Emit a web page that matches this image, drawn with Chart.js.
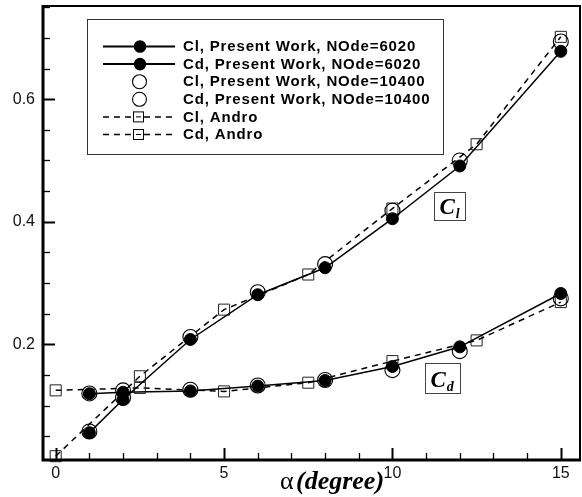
<!DOCTYPE html>
<html>
<head>
<meta charset="utf-8">
<script src="https://cdn.jsdelivr.net/npm/chart.js@4/dist/chart.umd.min.js"></script>
<style>
html,body{margin:0;padding:0;background:#fff;}
#wrap{width:582px;height:497px;position:relative;}
</style>
</head>
<body>
<div id="wrap"><canvas id="c" width="582" height="497"></canvas></div>
<script>
// ---- data ----
const alphaPresent = [1, 2, 4, 6, 8, 10, 12, 15];
const clPresent6020 = [0.056, 0.110, 0.208, 0.281, 0.325, 0.405, 0.491, 0.678];
const cdPresent6020 = [0.1195, 0.122, 0.124, 0.132, 0.141, 0.164, 0.196, 0.283];
const clPresent10400 = [0.058, 0.113, 0.212, 0.285, 0.331, 0.418, 0.500, 0.694];
const cdPresent10400 = [0.120, 0.125, 0.126, 0.133, 0.142, 0.158, 0.189, 0.275];
const alphaAndro = [0, 2.5, 5, 7.5, 10, 12.5, 15];
const clAndro = [0.0176, 0.148, 0.2567, 0.314, 0.4216, 0.5265, 0.7017];
const cdAndro = [0.125, 0.129, 0.1233, 0.1375, 0.1727, 0.2065, 0.269];
const xTicks = [0, 5, 10, 15];
const yTicks = [0.2, 0.4, 0.6];
const legendLabels = [
  'Cl, Present Work, NOde=6020',
  'Cd, Present Work, NOde=6020',
  'Cl, Present Work, NOde=10400',
  'Cd, Present Work, NOde=10400',
  'Cl, Andro',
  'Cd, Andro'
];
const xTitleSymbol = '\u03B1';
const xTitleText = '(degree)';

function pts(xs, ys){ return xs.map((x,i)=>({x:x, y:ys[i]})); }

const filledStyle = {
  showLine:true, borderColor:'#000', borderWidth:1.5,
  pointStyle:'circle', pointRadius:6, pointBorderWidth:1,
  pointBackgroundColor:'#000', pointBorderColor:'#000', tension:0, clip:false
};
const openStyle = {
  showLine:false, borderColor:'#000',
  pointStyle:'circle', pointRadius:7.5, pointBorderWidth:1.1,
  pointBackgroundColor:'rgba(0,0,0,0)', pointBorderColor:'#000', clip:false
};
const androStyle = {
  showLine:true, borderColor:'#000', borderWidth:1.5, borderDash:[6,5],
  pointStyle:'rect', pointRadius:7.8, pointBorderWidth:1,
  pointBackgroundColor:'rgba(0,0,0,0)', pointBorderColor:'#222', tension:0, clip:false
};

const decor = {
  id:'decor',
  afterDraw(chart){
    const ctx = chart.ctx;
    const a = chart.chartArea;
    const xs = chart.scales.x, ys = chart.scales.y;
    ctx.save();
    ctx.strokeStyle = '#000';
    // inward minor + major ticks
    for (let v = 0; v <= 15.0001; v += 1) {
      const px = Math.round(xs.getPixelForValue(v)) + 0.5;
      const major = xTicks.includes(v);
      ctx.lineWidth = major ? 2 : 1.3;
      ctx.beginPath(); ctx.moveTo(px, a.bottom); ctx.lineTo(px, a.bottom - (major ? 12 : 7)); ctx.stroke();
    }
    for (let k = 1; k <= 15; k++) {
      const v = k * 0.05;
      if (v > ys.max) break;
      const py = Math.round(ys.getPixelForValue(v)) + 0.5;
      const major = yTicks.some(t => Math.abs(t - v) < 1e-6);
      ctx.lineWidth = major ? 2 : 1.3;
      ctx.beginPath(); ctx.moveTo(a.left, py); ctx.lineTo(a.left + (major ? 12 : 7), py); ctx.stroke();
    }
    // frame
    ctx.lineWidth = 2;
    ctx.beginPath(); ctx.moveTo(a.left, a.top); ctx.lineTo(a.right, a.top); ctx.lineTo(a.right, a.bottom); ctx.stroke();
    ctx.lineWidth = 3;
    ctx.beginPath(); ctx.moveTo(a.left, a.top - 1); ctx.lineTo(a.left, a.bottom); ctx.lineTo(a.right + 1, a.bottom); ctx.stroke();

    // legend
    const L = {x:87, y:19, w:356, h:135};
    ctx.fillStyle = '#fff';
    ctx.fillRect(L.x, L.y, L.w, L.h);
    ctx.lineWidth = 1; ctx.strokeStyle = '#333';
    ctx.strokeRect(L.x + 0.5, L.y + 0.5, L.w, L.h);
    const rowY0 = 46.5, rowDy = 17.6;
    ctx.font = 'bold 15px "Liberation Sans", Arial, sans-serif';
    ctx.textBaseline = 'middle'; ctx.textAlign = 'left';
    if ('letterSpacing' in ctx) ctx.letterSpacing = '0.85px';
    legendLabels.forEach((lab, i) => {
      const y = rowY0 + i * rowDy;
      ctx.strokeStyle = '#000'; ctx.fillStyle = '#000';
      if (i < 2) {
        ctx.lineWidth = 2; ctx.setLineDash([]);
        ctx.beginPath(); ctx.moveTo(103, y); ctx.lineTo(175, y); ctx.stroke();
        ctx.beginPath(); ctx.arc(140, y, 6.3, 0, Math.PI * 2); ctx.fill();
      } else if (i < 4) {
        ctx.lineWidth = 1.1; ctx.setLineDash([]);
        ctx.beginPath(); ctx.arc(139.5, y, 7, 0, Math.PI * 2); ctx.stroke();
      } else {
        ctx.lineWidth = 1.5; ctx.setLineDash([6, 5]);
        ctx.beginPath(); ctx.moveTo(103, y); ctx.lineTo(133, y); ctx.stroke();
        ctx.beginPath(); ctx.moveTo(144, y); ctx.lineTo(176, y); ctx.stroke();
        ctx.setLineDash([]);
        ctx.lineWidth = 1;
        ctx.strokeRect(133.5, y - 5, 10, 10);
        ctx.beginPath(); ctx.moveTo(136, y); ctx.lineTo(141, y); ctx.stroke();
      }
      ctx.fillStyle = '#000';
      ctx.fillText(lab, 183, y + 0.5);
    });
    if ('letterSpacing' in ctx) ctx.letterSpacing = '0px';

    // C_l and C_d labels
    function labelBox(cx, cy, w, h, main, sub){
      const px = xs.getPixelForValue(cx), py = ys.getPixelForValue(cy);
      const l = Math.round(px - w / 2) + 0.5, t = Math.round(py - h / 2) + 0.5;
      ctx.fillStyle = '#fff'; ctx.fillRect(l, t, w, h);
      ctx.strokeStyle = '#444'; ctx.lineWidth = 1; ctx.strokeRect(l, t, w, h);
      ctx.fillStyle = '#000'; ctx.textBaseline = 'alphabetic'; ctx.textAlign = 'left';
      ctx.font = 'bold italic 23px "Liberation Serif", "Times New Roman", serif';
      ctx.fillText(main, l + 5, t + h - 7);
      const mw = ctx.measureText(main).width;
      ctx.font = 'bold italic 14px "Liberation Serif", "Times New Roman", serif';
      ctx.fillText(sub, l + 5 + mw + 1, t + h - 3);
    }
    labelBox(11.69, 0.4253, 31, 28, 'C', 'l');
    labelBox(11.49, 0.1456, 35, 30, 'C', 'd');

    // x-axis title
    ctx.fillStyle = '#000'; ctx.textBaseline = 'alphabetic'; ctx.textAlign = 'left';
    ctx.font = '26px "Liberation Serif", "Times New Roman", serif';
    ctx.fillText(xTitleSymbol, 280, 489);
    ctx.font = 'bold italic 26px "Liberation Serif", "Times New Roman", serif';
    ctx.fillText(xTitleText, 296, 489);
    ctx.restore();
  }
};

new Chart(document.getElementById('c'), {
  type: 'scatter',
  data: {
    datasets: [
      Object.assign({label: legendLabels[0], data: pts(alphaPresent, clPresent6020)}, filledStyle),
      Object.assign({label: legendLabels[1], data: pts(alphaPresent, cdPresent6020)}, filledStyle),
      Object.assign({label: legendLabels[2], data: pts(alphaPresent, clPresent10400)}, openStyle),
      Object.assign({label: legendLabels[3], data: pts(alphaPresent, cdPresent10400)}, openStyle),
      Object.assign({label: legendLabels[4], data: pts(alphaAndro, clAndro)}, androStyle),
      Object.assign({label: legendLabels[5], data: pts(alphaAndro, cdAndro)}, androStyle)
    ]
  },
  options: {
    responsive: false,
    animation: false,
    devicePixelRatio: 1,
    layout: {autoPadding: false, padding: {top: 6, right: 2, left: 0, bottom: 0}},
    plugins: {legend: {display: false}, tooltip: {enabled: false}},
    scales: {
      x: {
        type: 'linear', min: -0.377, max: 15.57,
        grid: {display: false, drawTicks: false}, border: {display: false},
        ticks: {color: '#111', padding: 4, font: {family: '"Liberation Sans", Arial, sans-serif', size: 16}},
        afterBuildTicks: s => { s.ticks = xTicks.map(v => ({value: v})); },
        afterFit: s => { s.height = 37; s.paddingLeft = 0; s.paddingRight = 0; }
      },
      y: {
        type: 'linear', min: 0.0114, max: 0.752,
        grid: {display: false, drawTicks: false}, border: {display: false},
        ticks: {color: '#111', padding: 8, font: {family: '"Liberation Sans", Arial, sans-serif', size: 16},
                callback: v => v.toFixed(1)},
        afterBuildTicks: s => { s.ticks = yTicks.map(v => ({value: v})); },
        afterFit: s => { s.width = 43; s.paddingTop = 0; s.paddingBottom = 0; }
      }
    }
  },
  plugins: [decor]
});
</script>
</body>
</html>
